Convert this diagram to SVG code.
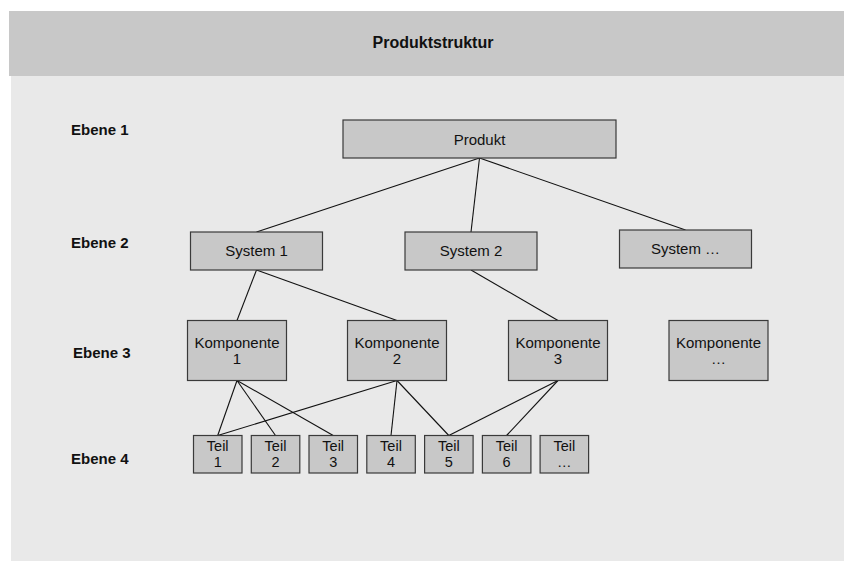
<svg xmlns="http://www.w3.org/2000/svg" width="844" height="561" viewBox="0 0 844 561">
  <style>
    .box { fill: #c8c8c8; stroke: #3a3a3a; stroke-width: 1.2; }
    .lbl { font-family: "Liberation Sans", Arial, sans-serif; font-size: 15px; fill: #111; text-anchor: middle; }
    .sm { font-size: 14.5px; }
    .lvl { font-family: "Liberation Sans", Arial, sans-serif; font-size: 15px; font-weight: bold; fill: #111; }
    .title { font-family: "Liberation Sans", Arial, sans-serif; font-size: 16px; font-weight: bold; fill: #111; text-anchor: middle; }
    .edge { stroke: #111; stroke-width: 1.1; fill: none; }
  </style>

  <!-- page background -->
  <rect x="0" y="0" width="844" height="561" fill="#ffffff"/>
  <rect x="11" y="76" width="833" height="485" fill="#e9e9e9"/>
  <rect x="9" y="11" width="835" height="65" fill="#c8c8c8"/>
  <text class="title" x="433" y="48">Produktstruktur</text>

  <!-- level labels -->
  <g id="levels">
    <text class="lvl" x="71" y="135">Ebene 1</text>
    <text class="lvl" x="71" y="248">Ebene 2</text>
    <text class="lvl" x="73" y="358">Ebene 3</text>
    <text class="lvl" x="71" y="464">Ebene 4</text>
  </g>

  <!-- connectors -->
  <g id="connectors">
    <line class="edge" x1="479.5" y1="158" x2="256.5" y2="232"/>
    <line class="edge" x1="479.5" y1="158" x2="471" y2="232"/>
    <line class="edge" x1="479.5" y1="158" x2="685.5" y2="230"/>
    <line class="edge" x1="256.5" y1="270" x2="237" y2="320.5"/>
    <line class="edge" x1="256.5" y1="270" x2="397" y2="320.5"/>
    <line class="edge" x1="471" y1="270" x2="558" y2="320.5"/>
    <line class="edge" x1="237" y1="380.5" x2="217.7" y2="435.5"/>
    <line class="edge" x1="237" y1="380.5" x2="275.5" y2="435.5"/>
    <line class="edge" x1="237" y1="380.5" x2="333.2" y2="435.5"/>
    <line class="edge" x1="397" y1="380.5" x2="217.7" y2="435.5"/>
    <line class="edge" x1="397" y1="380.5" x2="391" y2="435.5"/>
    <line class="edge" x1="397" y1="380.5" x2="448.8" y2="435.5"/>
    <line class="edge" x1="558" y1="380.5" x2="448.8" y2="435.5"/>
    <line class="edge" x1="558" y1="380.5" x2="506.6" y2="435.5"/>
  </g>

  <!-- level 1 -->
  <g id="produkt">
    <rect class="box" x="343" y="120" width="273" height="38"/>
    <text class="lbl" x="479.5" y="144.5">Produkt</text>
  </g>

  <!-- level 2 -->
  <g id="system-1">
    <rect class="box" x="190.5" y="232" width="132" height="38"/>
    <text class="lbl" x="256.5" y="256">System 1</text>
  </g>
  <g id="system-2">
    <rect class="box" x="405" y="232" width="132" height="38"/>
    <text class="lbl" x="471" y="256">System 2</text>
  </g>
  <g id="system-n">
    <rect class="box" x="619.5" y="230" width="132" height="38"/>
    <text class="lbl" x="685.5" y="254">System …</text>
  </g>

  <!-- level 3 -->
  <g id="komponente-1">
    <rect class="box" x="187.5" y="320.5" width="99" height="60"/>
    <text class="lbl" x="237" y="347.5">Komponente</text>
    <text class="lbl" x="237" y="363.5">1</text>
  </g>
  <g id="komponente-2">
    <rect class="box" x="347.5" y="320.5" width="99" height="60"/>
    <text class="lbl" x="397" y="347.5">Komponente</text>
    <text class="lbl" x="397" y="363.5">2</text>
  </g>
  <g id="komponente-3">
    <rect class="box" x="508.5" y="320.5" width="99" height="60"/>
    <text class="lbl" x="558" y="347.5">Komponente</text>
    <text class="lbl" x="558" y="363.5">3</text>
  </g>
  <g id="komponente-n">
    <rect class="box" x="669" y="320.5" width="99" height="60"/>
    <text class="lbl" x="718.5" y="347.5">Komponente</text>
    <text class="lbl" x="718.5" y="363.5">…</text>
  </g>

  <!-- level 4 -->
  <g id="teil-1">
    <rect class="box" x="193.5" y="435.5" width="48.5" height="37.5"/>
    <text class="lbl sm" x="217.7" y="451">Teil</text>
    <text class="lbl sm" x="217.7" y="467">1</text>
  </g>
  <g id="teil-2">
    <rect class="box" x="251.3" y="435.5" width="48.5" height="37.5"/>
    <text class="lbl sm" x="275.5" y="451">Teil</text>
    <text class="lbl sm" x="275.5" y="467">2</text>
  </g>
  <g id="teil-3">
    <rect class="box" x="309" y="435.5" width="48.5" height="37.5"/>
    <text class="lbl sm" x="333.2" y="451">Teil</text>
    <text class="lbl sm" x="333.2" y="467">3</text>
  </g>
  <g id="teil-4">
    <rect class="box" x="366.8" y="435.5" width="48.5" height="37.5"/>
    <text class="lbl sm" x="391" y="451">Teil</text>
    <text class="lbl sm" x="391" y="467">4</text>
  </g>
  <g id="teil-5">
    <rect class="box" x="424.6" y="435.5" width="48.5" height="37.5"/>
    <text class="lbl sm" x="448.8" y="451">Teil</text>
    <text class="lbl sm" x="448.8" y="467">5</text>
  </g>
  <g id="teil-6">
    <rect class="box" x="482.4" y="435.5" width="48.5" height="37.5"/>
    <text class="lbl sm" x="506.6" y="451">Teil</text>
    <text class="lbl sm" x="506.6" y="467">6</text>
  </g>
  <g id="teil-n">
    <rect class="box" x="540.1" y="435.5" width="48.5" height="37.5"/>
    <text class="lbl sm" x="564.3" y="451">Teil</text>
    <text class="lbl sm" x="564.3" y="467">…</text>
  </g>
</svg>
